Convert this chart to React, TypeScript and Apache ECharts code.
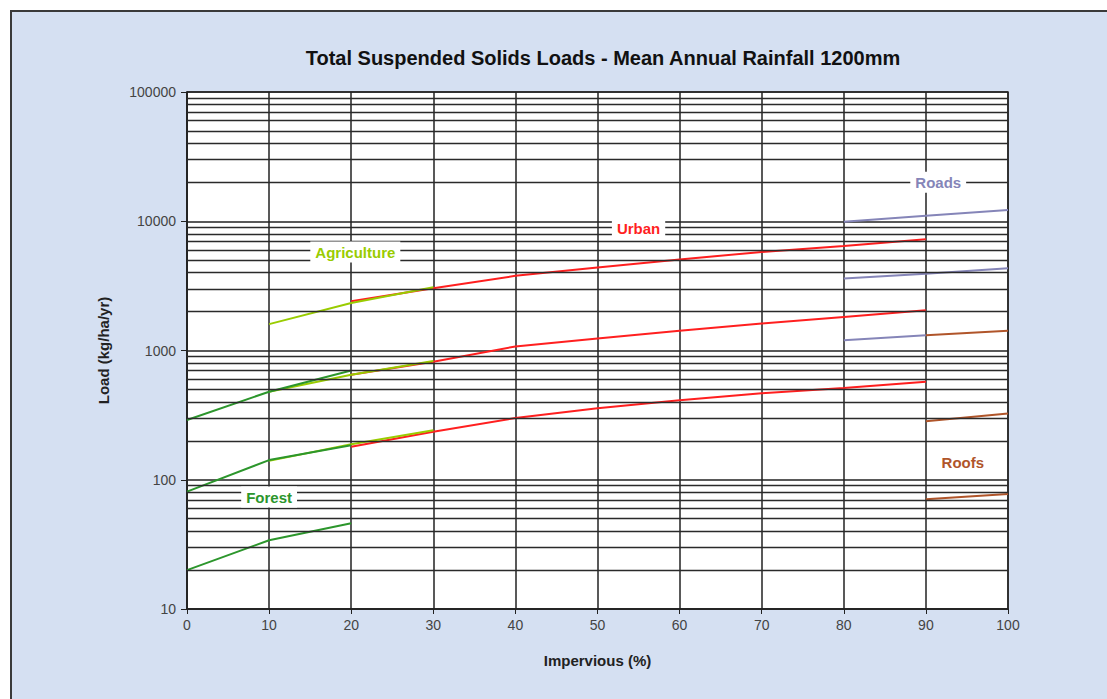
import React, { useEffect, useRef } from "react";
import * as echarts from "echarts";

const TITLE = "Total Suspended Solids Loads - Mean Annual Rainfall 1200mm";
const X_NAME = "Impervious (%)";
const Y_NAME = "Load (kg/ha/yr)";

const forestLow = [[0, 20], [10, 34], [20, 46]];
const forestMid = [[0, 81], [10, 142], [20, 185]];
const forestHigh = [[0, 290], [10, 480], [20, 700]];

const agriLow = [[10, 140], [20, 188], [30, 242]];
const agriMid = [[10, 480], [20, 650], [30, 830]];
const agriHigh = [[10, 1600], [20, 2330], [30, 3080]];

const urbanLow = [[20, 180], [30, 235], [40, 300], [50, 358], [60, 413], [70, 466], [80, 512], [90, 573]];
const urbanMid = [[20, 650], [30, 818], [40, 1075], [50, 1240], [60, 1420], [70, 1620], [80, 1820], [90, 2050]];
const urbanHigh = [[20, 2400], [30, 3030], [40, 3780], [50, 4390], [60, 5060], [70, 5790], [80, 6430], [90, 7270]];

const roadsLow = [[80, 1200], [90, 1315]];
const roadsMid = [[80, 3610], [90, 3930], [100, 4320]];
const roadsHigh = [[80, 9900], [90, 11050], [100, 12200]];

const roofsLow = [[90, 70.5], [100, 77.5]];
const roofsMid = [[90, 284], [100, 326]];
const roofsHigh = [[90, 1315], [100, 1420]];

// label anchors [x, y] in data units
const labelNames = ["Forest", "Agriculture", "Urban", "Roads", "Roofs"];
const labelAnchors = [[10, 73.5], [20.5, 5770], [55, 8850], [91.5, 20000], [94.5, 135]];

const decades = [10, 100, 1000, 10000];
const minorMultipliers = [2, 3, 4, 5, 6, 7, 8, 9];

const C_FOREST = "#2c962c";
const C_AGRI = "#99cc00";
const C_URBAN = "#ff1f1f";
const C_ROADS = "#8585b8";
const C_ROOFS = "#b0552a";
const labelColors = [C_FOREST, C_AGRI, C_URBAN, C_ROADS, C_ROOFS];

export default function App() {
  const ref = useRef<HTMLDivElement>(null);

  useEffect(() => {
    if (!ref.current) return;
    const chart = echarts.init(ref.current, null, { renderer: "svg" });
    const font = "'Liberation Sans', Arial, sans-serif";

    const minorValues: number[] = [];
    decades.forEach((d) => minorMultipliers.forEach((m) => minorValues.push(d * m)));

    const lineSeries = (name: string, data: number[][], color: string) => ({
      name,
      type: "line",
      data,
      symbol: "none",
      z: 3,
      lineStyle: { color, width: 2 },
      itemStyle: { color },
    });

    chart.setOption({
      animation: false,
      textStyle: { fontFamily: font },
      title: {
        text: TITLE,
        left: 598,
        top: 43,
        textAlign: "center",
        textStyle: { fontFamily: font, fontWeight: "bold", fontSize: 20, color: "#111" },
      },
      grid: {
        left: 187,
        right: 99,
        top: 92,
        bottom: 90,
        show: true,
        backgroundColor: "#ffffff",
        borderColor: "#333",
        borderWidth: 1.5,
      },
      xAxis: {
        type: "value",
        min: 0,
        max: 100,
        interval: 10,
        name: X_NAME,
        nameLocation: "middle",
        nameGap: 44,
        nameTextStyle: { fontFamily: font, fontWeight: "bold", fontSize: 15, color: "#222" },
        axisLine: { show: true, lineStyle: { color: "#222", width: 1.5 } },
        axisTick: { show: true, length: 5, lineStyle: { color: "#222" } },
        axisLabel: { margin: 9, color: "#444", fontSize: 14, fontFamily: font },
        splitLine: { show: true, lineStyle: { color: "#222", width: 1.5 } },
      },
      yAxis: {
        type: "log",
        logBase: 10,
        min: 10,
        max: 100000,
        name: Y_NAME,
        nameLocation: "middle",
        nameGap: 76,
        nameRotate: 90,
        nameTextStyle: { fontFamily: font, fontWeight: "bold", fontSize: 15, color: "#222" },
        axisLine: { show: true, lineStyle: { color: "#222", width: 1.5 } },
        axisTick: { show: true, length: 6, lineStyle: { color: "#222" } },
        axisLabel: {
          margin: 11,
          color: "#444",
          fontSize: 14,
          fontFamily: font,
          formatter: (v: number) => String(Math.round(v)),
        },
        splitLine: { show: true, lineStyle: { color: "#222", width: 1.5 } },
      },
      series: [
        {
          name: "minor-grid",
          type: "line",
          data: [[0, 10]],
          symbol: "none",
          silent: true,
          z: 1,
          lineStyle: { opacity: 0 },
          markLine: {
            silent: true,
            symbol: ["none", "none"],
            label: { show: false },
            lineStyle: { color: "#2a2a2a", width: 1.3, type: "solid" },
            emphasis: { disabled: true },
            data: minorValues.map((v) => ({ yAxis: v })),
          },
        },
        lineSeries("Urban low", urbanLow, C_URBAN),
        lineSeries("Urban mid", urbanMid, C_URBAN),
        lineSeries("Urban high", urbanHigh, C_URBAN),
        lineSeries("Agriculture low", agriLow, C_AGRI),
        lineSeries("Agriculture mid", agriMid, C_AGRI),
        lineSeries("Agriculture high", agriHigh, C_AGRI),
        lineSeries("Forest low", forestLow, C_FOREST),
        lineSeries("Forest mid", forestMid, C_FOREST),
        lineSeries("Forest high", forestHigh, C_FOREST),
        lineSeries("Roads low", roadsLow, C_ROADS),
        lineSeries("Roads mid", roadsMid, C_ROADS),
        lineSeries("Roads high", roadsHigh, C_ROADS),
        lineSeries("Roofs low", roofsLow, C_ROOFS),
        lineSeries("Roofs mid", roofsMid, C_ROOFS),
        lineSeries("Roofs high", roofsHigh, C_ROOFS),
      ],
    });

    const labelGraphics = labelNames.map((name, i) => {
      const p = chart.convertToPixel({ gridIndex: 0 }, labelAnchors[i]) as number[];
      return {
        type: "text",
        x: p[0],
        y: p[1],
        z: 100,
        silent: true,
        style: {
          text: name,
          fill: labelColors[i],
          font: "bold 15px 'Liberation Sans', Arial, sans-serif",
          align: "center",
          verticalAlign: "middle",
          textAlign: "center",
          textVerticalAlign: "middle",
          backgroundColor: "#ffffff",
          padding: [3, 5],
        },
      };
    });

    chart.setOption({
      graphic: [
        {
          type: "rect",
          z: -10,
          shape: { x: 11, y: 11, width: 1110, height: 710 },
          style: { fill: "#d5e0f2", stroke: "#3a3a3a", lineWidth: 2 },
          silent: true,
        },
        ...labelGraphics,
      ],
    });

    return () => chart.dispose();
  }, []);

  return (
    <div
      ref={ref}
      style={{ position: "fixed", left: 0, top: 0, width: 1107, height: 699, background: "#ffffff" }}
    />
  );
}
